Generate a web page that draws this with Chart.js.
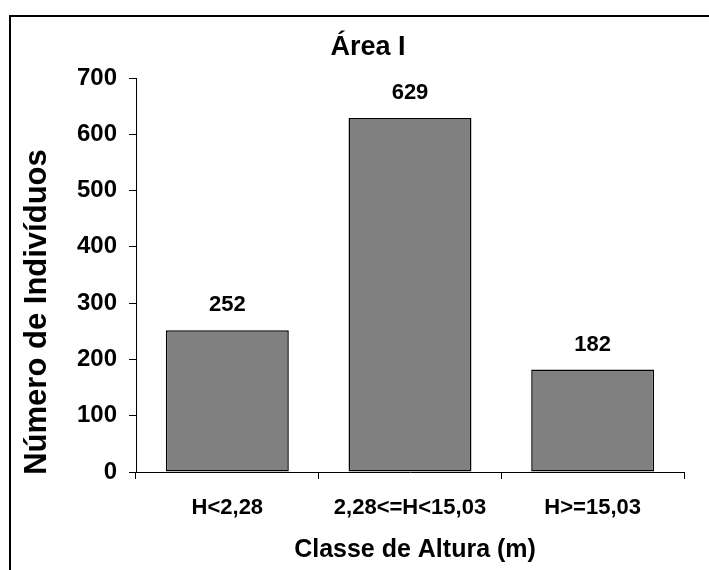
<!DOCTYPE html>
<html lang="pt">
<head>
    <meta charset="UTF-8">
    <title>Área I</title>
    <script src="https://cdn.jsdelivr.net/npm/chart.js"></script>
    <style>
        body {
            margin: 0;
            padding: 0;
            background: #fff;
        }
        #wrap {
            width: 709px;
            height: 570px;
        }
    </style>
</head>
<body>
    <div id="wrap">
        <canvas id="barChart" width="709" height="570"></canvas>
    </div>

    <script>
        const categories = ['H<2,28', '2,28<=H<15,03', 'H>=15,03'];
        const individuos = [252, 629, 182];
        const yTicks = [0, 100, 200, 300, 400, 500, 600, 700];

        const chartTitle = 'Área I';
        const xTitle = 'Classe de Altura (m)';
        const yTitle = 'Número de Indivíduos';

        const FONT = "'Liberation Sans', Arial, sans-serif";

        // white background, frame, titles and value labels
        const decorations = {
            id: 'decorations',
            beforeDraw(chart) {
                const ctx = chart.ctx;
                ctx.save();
                ctx.fillStyle = '#fff';
                ctx.fillRect(0, 0, chart.width, chart.height);
                ctx.strokeStyle = '#000';
                ctx.lineWidth = 2;
                ctx.strokeRect(10, 16, 760, 620);
                ctx.restore();
            },
            afterDraw(chart) {
                const ctx = chart.ctx;
                ctx.save();
                ctx.fillStyle = '#000';
                ctx.textAlign = 'center';
                ctx.textBaseline = 'alphabetic';

                ctx.font = 'bold 27px ' + FONT;
                ctx.fillText(chartTitle, 368, 55);

                ctx.font = 'bold 25px ' + FONT;
                ctx.fillText(xTitle, 415, 557);

                ctx.save();
                ctx.translate(46, 312);
                ctx.rotate(-Math.PI / 2);
                ctx.font = 'bold 31px ' + FONT;
                ctx.fillText(yTitle, 0, 0);
                ctx.restore();

                ctx.font = 'bold 22px ' + FONT;
                ctx.textBaseline = 'middle';
                const meta = chart.getDatasetMeta(0);
                meta.data.forEach((bar, i) => {
                    ctx.fillText(String(individuos[i]), bar.x, bar.y - 25);
                });
                ctx.restore();
            }
        };

        new Chart(document.getElementById('barChart'), {
            type: 'bar',
            data: {
                labels: categories,
                datasets: [{
                    data: individuos,
                    backgroundColor: '#808080',
                    borderColor: '#000',
                    borderWidth: 1.5,
                    borderSkipped: false,
                    categoryPercentage: 1,
                    barPercentage: 0.673
                }]
            },
            options: {
                responsive: false,
                animation: false,
                layout: {
                    padding: { left: 0, right: 25, top: 78, bottom: 0 }
                },
                plugins: {
                    legend: { display: false },
                    title: { display: false },
                    tooltip: { enabled: false }
                },
                scales: {
                    x: {
                        afterFit(scale) { scale.height = 98; },
                        border: { color: '#000', width: 1 },
                        grid: {
                            offset: true,
                            drawOnChartArea: false,
                            drawTicks: true,
                            tickLength: 7,
                            color: '#000'
                        },
                        ticks: {
                            color: '#000',
                            padding: 16,
                            maxRotation: 0,
                            font: { family: FONT, size: 22, weight: 'bold' }
                        }
                    },
                    y: {
                        min: yTicks[0],
                        max: yTicks[yTicks.length - 1],
                        afterFit(scale) { scale.width = 136; },
                        afterBuildTicks(scale) {
                            scale.ticks = yTicks.map(v => ({ value: v }));
                        },
                        border: { color: '#000', width: 1 },
                        grid: {
                            drawOnChartArea: false,
                            drawTicks: true,
                            tickLength: 7,
                            color: '#000'
                        },
                        ticks: {
                            color: '#000',
                            padding: 12,
                            font: { family: FONT, size: 24, weight: 'bold' }
                        }
                    }
                }
            },
            plugins: [decorations]
        });
    </script>
</body>
</html>
